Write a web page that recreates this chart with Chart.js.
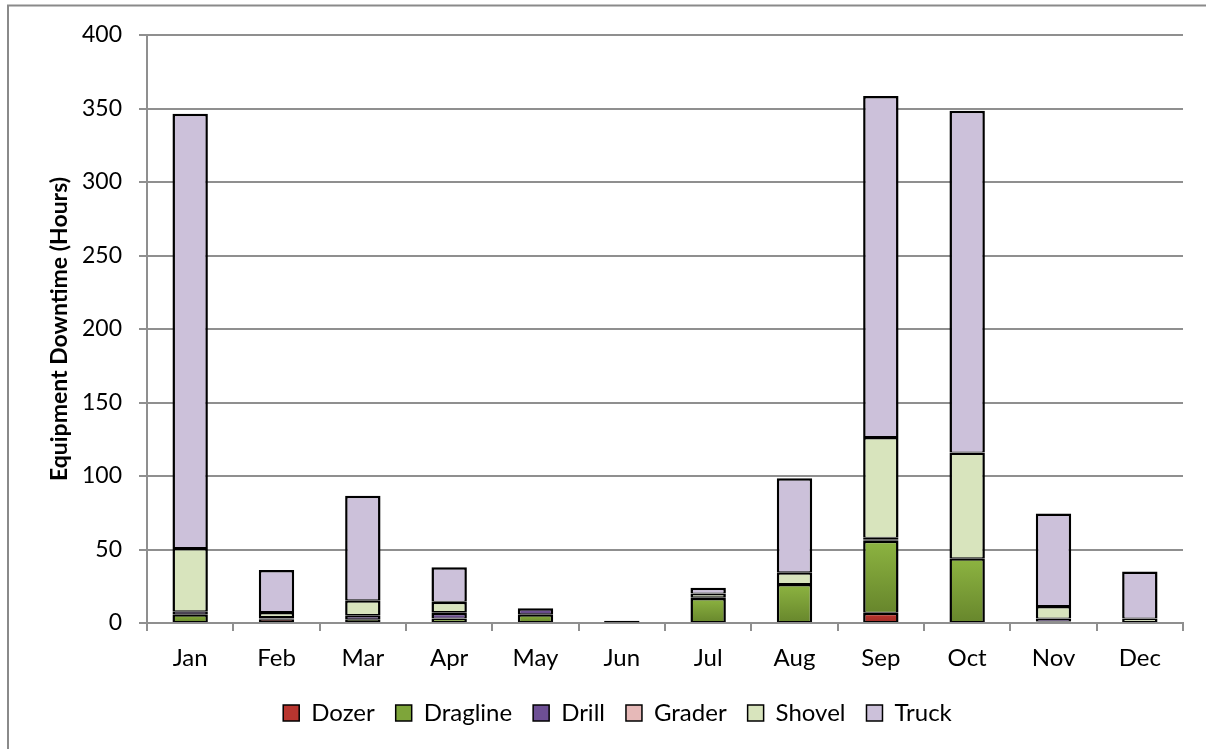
<!DOCTYPE html>
<html>
<head>
<meta charset="utf-8">
<script src="https://cdn.jsdelivr.net/npm/chart.js@4.4.1/dist/chart.umd.min.js"></script>
<style>
  html, body { margin: 0; padding: 0; background: #fff; }
  #wrap { width: 1206px; height: 749px; position: relative; }
</style>
</head>
<body>
<div id="wrap"><canvas id="c" width="1206" height="749"></canvas></div>
<script>
// Monthly equipment downtime, stacked by equipment type (hours)
const months = ['Jan', 'Feb', 'Mar', 'Apr', 'May', 'Jun', 'Jul', 'Aug', 'Sep', 'Oct', 'Nov', 'Dec'];
const dozer    = [0,   2.5, 0,   0,   0, 0,   0,   0,    7,    0,    0,   0];
const dragline = [6,   0.5, 2.5, 3,   6, 0.5, 17,  26.5, 49,   44,   1,   0];
const drill    = [2,   0,   2.5, 4,   4, 1,   0.5, 0,    1,    0,    2,   0];
const grader   = [0,   1,   0.5, 0.5, 0, 0,   0,   0,    1,    0,    0,   0];
const shovel   = [43,  3.5, 10,  7,   0, 0,   2.5, 8,    68.5, 72,   8.5, 3];
const truck    = [295.5, 28.5, 71, 23.5, 0, 0, 4,  64,   232,  232.5, 63, 32];
const yTicks   = [0, 50, 100, 150, 200, 250, 300, 350, 400];

const FONT = 'Lato, "Open Sans", sans-serif';

// vertical gradient fill for one stacked segment, spanning its own height
function segmentFill(top, bottom) {
  return function (c) {
    const chart = c.chart;
    if (c.type !== 'data' || !chart.chartArea) return top;
    const y = chart.scales.y;
    let base = 0;
    for (let i = 0; i < c.datasetIndex; i++) base += chart.data.datasets[i].data[c.dataIndex] || 0;
    const v = c.raw || 0;
    const y0 = y.getPixelForValue(base), y1 = y.getPixelForValue(base + v);
    if (!isFinite(y0) || !isFinite(y1) || y0 === y1) return top;
    const g = chart.ctx.createLinearGradient(0, y1, 0, y0);
    g.addColorStop(0, top);
    g.addColorStop(1, bottom);
    return g;
  };
}

const series = [
  { label: 'Dozer',    data: dozer,    fill: segmentFill('#c23b33', '#9e2a24'), legend: '#b8352f' },
  { label: 'Dragline', data: dragline, fill: segmentFill('#8db441', '#67862c'), legend: '#7ea53a' },
  { label: 'Drill',    data: drill,    fill: segmentFill('#7e5fa6', '#5f437f'), legend: '#6d4f94' },
  { label: 'Grader',   data: grader,   fill: '#e6b9b8', legend: '#e6b9b8' },
  { label: 'Shovel',   data: shovel,   fill: '#d8e4bd', legend: '#d8e4bd' },
  { label: 'Truck',    data: truck,    fill: '#ccc1da', legend: '#ccc1da' }
];

// white page with the thin grey frame on the left and top
const framePlugin = {
  id: 'frame',
  beforeDraw(chart) {
    const ctx = chart.ctx;
    ctx.save();
    ctx.fillStyle = '#ffffff';
    ctx.fillRect(0, 0, chart.width, chart.height);
    ctx.strokeStyle = '#8a8a8a';
    ctx.lineWidth = 2;
    ctx.beginPath();
    ctx.moveTo(8, chart.height);
    ctx.lineTo(8, 5.5);
    ctx.lineTo(chart.width, 5.5);
    ctx.stroke();
    ctx.restore();
  }
};

// nudge the legend row to the right so it sits under the plot's centre
const legendShift = {
  id: 'legendShift',
  afterLayout(chart) {
    if (chart.legend) { chart.legend.left += 26; chart.legend.right += 26; }
  }
};

new Chart(document.getElementById('c'), {
  type: 'bar',
  data: {
    labels: months,
    datasets: series.map(s => ({
      label: s.label,
      data: s.data,
      backgroundColor: s.fill,
      legendColor: s.legend,
      borderColor: '#000000',
      borderWidth: { top: 2.5, left: 2.5, right: 2.5, bottom: 1 },
      borderSkipped: false,
      barPercentage: 0.41,
      categoryPercentage: 1.0
    }))
  },
  options: {
    responsive: false,
    animation: false,
    devicePixelRatio: 1,
    layout: { padding: { left: 0, right: 23, top: 35, bottom: 14 } },
    plugins: {
      tooltip: { enabled: false },
      legend: {
        position: 'bottom',
        labels: {
          font: { family: FONT, size: 24 },
          color: '#000',
          boxWidth: 16,
          boxHeight: 16,
          padding: 21,
          generateLabels(chart) {
            return chart.data.datasets.map((d, i) => ({
              text: d.label,
              fillStyle: d.legendColor,
              strokeStyle: '#000',
              lineWidth: 1.5,
              hidden: false,
              datasetIndex: i
            }));
          }
        }
      }
    },
    scales: {
      x: {
        stacked: true,
        afterFit(scale) { scale.height = 57; },
        grid: {
          offset: true,
          drawOnChartArea: false,
          drawTicks: true,
          tickLength: 8,
          color: '#8f8f8f',
          lineWidth: 2
        },
        border: { color: '#8f8f8f', width: 2 },
        ticks: { font: { family: FONT, size: 24 }, color: '#000', padding: 12.5 }
      },
      y: {
        stacked: true,
        min: 0,
        max: 400,
        afterBuildTicks(scale) { scale.ticks = yTicks.map(v => ({ value: v })); },
        afterFit(scale) { scale.width = 147; },
        grid: { color: '#8f8f8f', lineWidth: 2, tickLength: 8 },
        border: { color: '#8f8f8f', width: 2 },
        ticks: { font: { family: FONT, size: 23 }, color: '#000', padding: 17 },
        title: {
          display: true,
          text: 'Equipment Downtime (Hours)',
          font: { family: FONT, size: 23, weight: 'bold' },
          color: '#000',
          padding: { top: 46, bottom: 0 }
        }
      }
    }
  },
  plugins: [framePlugin, legendShift]
});
</script>
</body>
</html>
